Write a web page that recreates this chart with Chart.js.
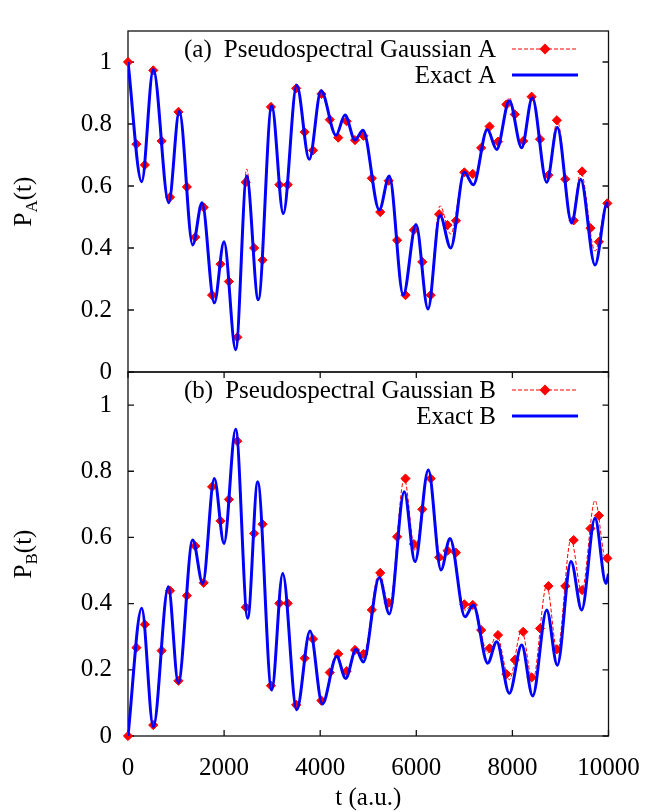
<!DOCTYPE html>
<html><head><meta charset="utf-8">
<script src="https://cdn.jsdelivr.net/npm/chart.js@4"></script>
<style>
html,body{margin:0;padding:0;background:#fff;}
#wrap{position:relative;width:659px;height:812px;overflow:hidden;}
canvas{position:absolute;left:0;top:0;}
</style>
</head><body>
<div id="wrap"><canvas id="ca" width="659" height="812"></canvas><canvas id="cb" width="659" height="812"></canvas></div>
<script>
// ---- data ----
const markerT = [0,175,350,525,700,875,1050,1225,1400,1575,1750,1925,2100,2275,2450,2625,2800,2975,3150,3325,3500,3675,3850,4025,4200,4375,4550,4725,4900,5075,5250,5425,5600,5775,5950,6125,6300,6475,6650,6825,7000,7175,7350,7525,7700,7875,8050,8225,8400,8575,8750,8925,9100,9275,9450,9625,9800,9975];
const gaussA = [1.0,0.735,0.668,0.973,0.745,0.564,0.839,0.597,0.435,0.531,0.248,0.348,0.292,0.112,0.612,0.40,0.361,0.855,0.604,0.604,0.915,0.774,0.715,0.897,0.814,0.756,0.809,0.748,0.762,0.625,0.516,0.617,0.425,0.248,0.458,0.355,0.248,0.509,0.474,0.488,0.644,0.639,0.723,0.792,0.743,0.863,0.831,0.745,0.888,0.751,0.635,0.812,0.622,0.489,0.647,0.464,0.42,0.544];
const gaussB = [0.0,0.267,0.337,0.033,0.258,0.439,0.167,0.424,0.574,0.463,0.753,0.65,0.715,0.891,0.389,0.612,0.64,0.152,0.401,0.401,0.094,0.235,0.293,0.107,0.192,0.248,0.196,0.26,0.248,0.381,0.493,0.403,0.602,0.778,0.58,0.685,0.778,0.54,0.56,0.554,0.398,0.396,0.32,0.265,0.305,0.187,0.23,0.315,0.177,0.325,0.453,0.262,0.453,0.592,0.441,0.627,0.666,0.537];

const curveTA = [0,285,527,847,1068,1347,1540,1796,1998,2241,2470,2712,2991,3232,3511,3773,4017,4329,4516,4724,4891,5230,5438,5729,5994,6243,6493,6716,6999,7186,7478,7673,7936,8193,8414,8714,8934,9234,9421,9719,9975,10000];
const exactA = [1.0,0.614,0.976,0.546,0.841,0.410,0.546,0.223,0.420,0.072,0.632,0.233,0.859,0.511,0.925,0.686,0.907,0.764,0.829,0.748,0.780,0.523,0.632,0.248,0.476,0.203,0.506,0.40,0.644,0.604,0.782,0.718,0.875,0.723,0.885,0.612,0.789,0.481,0.622,0.345,0.546,0.53];
const gaussLineA = [1.0,0.614,0.976,0.546,0.841,0.410,0.546,0.223,0.420,0.072,0.655,0.233,0.859,0.511,0.925,0.686,0.907,0.764,0.829,0.748,0.780,0.523,0.632,0.248,0.476,0.203,0.536,0.445,0.644,0.604,0.79,0.718,0.885,0.723,0.89,0.612,0.81,0.481,0.647,0.39,0.55,0.53];

const curveTB = [0,285,527,839,1047,1347,1555,1796,1998,2241,2491,2699,2991,3220,3511,3788,4044,4343,4531,4745,4897,5230,5438,5750,5973,6250,6514,6701,7013,7186,7486,7673,7936,8193,8422,8714,8934,9220,9442,9719,9948,10000];
const exactB = [0,0.386,0.028,0.451,0.161,0.592,0.461,0.778,0.582,0.927,0.356,0.768,0.139,0.491,0.079,0.317,0.097,0.24,0.174,0.262,0.224,0.479,0.369,0.738,0.527,0.804,0.502,0.597,0.36,0.396,0.22,0.285,0.129,0.275,0.121,0.381,0.214,0.527,0.381,0.658,0.461,0.49];
const gaussLineB = [0,0.386,0.028,0.451,0.161,0.592,0.461,0.778,0.582,0.927,0.356,0.768,0.139,0.491,0.079,0.317,0.097,0.25,0.18,0.265,0.245,0.495,0.39,0.778,0.56,0.804,0.53,0.59,0.38,0.40,0.25,0.305,0.17,0.32,0.165,0.455,0.255,0.595,0.435,0.712,0.53,0.54];

const yTicks = [0,0.2,0.4,0.6,0.8,1];
const xTicks = [0,2000,4000,6000,8000,10000];
const xTitle = 't (a.u.)';

const FONT = '"Liberation Serif", "Times New Roman", Times, serif';
const pts = (xs, ys) => xs.map((x, i) => ({x: x, y: ys[i]}));

function framePlugin(o) {
  return {
    id: 'frame' + o.sub,
    beforeDatasetsDraw(chart) {
      const {ctx, chartArea: a, scales} = chart;
      ctx.save();
      ctx.strokeStyle = '#111';
      ctx.lineWidth = 1.3;
      ctx.strokeRect(a.left, a.top, a.right - a.left, a.bottom - a.top);
      ctx.beginPath();
      for (const v of yTicks) {
        const y = scales.y.getPixelForValue(v);
        ctx.moveTo(a.left, y); ctx.lineTo(a.left + 6, y);
        ctx.moveTo(a.right, y); ctx.lineTo(a.right - 6, y);
      }
      if (o.xTicks) {
        for (const v of xTicks) {
          const x = scales.x.getPixelForValue(v);
          ctx.moveTo(x, a.bottom); ctx.lineTo(x, a.bottom - 6);
          ctx.moveTo(x, a.top); ctx.lineTo(x, a.top + 6);
        }
      }
      ctx.stroke();
      ctx.restore();
    },
    afterDraw(chart) {
      const {ctx, chartArea: a} = chart;
      ctx.save();
      ctx.fillStyle = '#000';
      ctx.textBaseline = 'alphabetic';
      ctx.font = '25px ' + FONT;
      // legend
      ctx.textAlign = 'left';
      ctx.fillText(o.tag, 184, a.top + 26);
      ctx.textAlign = 'right';
      ctx.fillText(o.label1, 496, a.top + 26);
      ctx.fillText(o.label2, 496, a.top + 52);
      // red dashed sample with diamond
      ctx.strokeStyle = '#ff0000';
      ctx.lineWidth = 1;
      ctx.setLineDash([4, 2]);
      ctx.beginPath();
      ctx.moveTo(512, a.top + 18); ctx.lineTo(578, a.top + 18);
      ctx.stroke();
      ctx.setLineDash([]);
      ctx.fillStyle = '#ff0000';
      ctx.beginPath();
      const cx = 545, cy = a.top + 18, r = 5.5;
      ctx.moveTo(cx, cy - r); ctx.lineTo(cx + r, cy); ctx.lineTo(cx, cy + r); ctx.lineTo(cx - r, cy); ctx.closePath();
      ctx.fill();
      // blue sample
      ctx.strokeStyle = '#0000ff';
      ctx.lineWidth = 3;
      ctx.beginPath();
      ctx.moveTo(512, a.top + 44); ctx.lineTo(578, a.top + 44);
      ctx.stroke();
      // y title with subscript
      ctx.fillStyle = '#000';
      ctx.translate(31, (a.top + a.bottom) / 2);
      ctx.rotate(-Math.PI / 2);
      ctx.textAlign = 'left';
      const big = '25px ' + FONT, small = '17px ' + FONT;
      ctx.font = big; const wP = ctx.measureText('P').width; const wT = ctx.measureText('(t)').width;
      ctx.font = small; const wS = ctx.measureText(o.sub).width;
      let x0 = -(wP + wS + wT) / 2;
      ctx.font = big; ctx.fillText('P', x0, 0);
      ctx.font = small; ctx.fillText(o.sub, x0 + wP, 6);
      ctx.font = big; ctx.fillText('(t)', x0 + wP + wS, 0);
      ctx.restore();
      if (o.xTicks) {
        ctx.save();
        ctx.fillStyle = '#000';
        ctx.font = '25px ' + FONT;
        ctx.textAlign = 'center';
        ctx.textBaseline = 'alphabetic';
        ctx.fillText(xTitle, (a.left + a.right) / 2, 805);
        ctx.restore();
      }
    }
  };
}

function buildChart(id, o) {
  return new Chart(document.getElementById(id), {
    type: 'line',
    data: {
      datasets: [
        {label: o.label2, data: pts(o.curveT, o.exact), borderColor: '#0000ff', borderWidth: 3,
         pointRadius: 0, cubicInterpolationMode: 'monotone', fill: false, order: 0},
        {label: o.label1 + ' line', data: pts(o.curveT, o.gaussLine), borderColor: '#ff0000', borderWidth: 1,
         borderDash: [4, 2], pointRadius: 0, cubicInterpolationMode: 'monotone', fill: false, order: 1},
        {label: o.label1, data: pts(markerT, o.gauss), showLine: false, pointStyle: 'rectRot',
         pointRadius: 4.6, pointBackgroundColor: '#ff0000', pointBorderColor: '#ff0000', pointBorderWidth: 1,
         clip: false, order: 2}
      ]
    },
    options: {
      responsive: false, animation: false, devicePixelRatio: 1, events: [],
      layout: {padding: o.padding},
      plugins: {legend: {display: false}, tooltip: {enabled: false}, title: {display: false}},
      scales: {
        x: {
          type: 'linear', min: 0, max: 10000, bounds: 'data', display: o.xTicks,
          afterBuildTicks: s => { s.ticks = xTicks.map(v => ({value: v})); },
          afterFit: s => { s.height = o.xTicks ? 76 : 0; },
          grid: {display: false, drawTicks: false}, border: {display: false},
          ticks: {display: o.xTicks, autoSkip: false, maxRotation: 0, padding: 17, color: '#000',
                  font: {family: FONT, size: 25}, callback: v => String(v)}
        },
        y: {
          type: 'linear', min: 0, max: 1.1, bounds: 'data',
          afterBuildTicks: s => { s.ticks = yTicks.map(v => ({value: v})); },
          afterFit: s => { s.width = 128; },
          grid: {display: false, drawTicks: false}, border: {display: false},
          ticks: {padding: 16, color: '#000', font: {family: FONT, size: 25}, callback: v => String(v)}
        }
      }
    },
    plugins: [framePlugin(o)]
  });
}

buildChart('ca', {
  tag: '(a)', label1: 'Pseudospectral Gaussian A', label2: 'Exact A', sub: 'A', xTicks: false,
  curveT: curveTA, exact: exactA, gaussLine: gaussLineA, gauss: gaussA,
  padding: {top: 8, right: 50.5, bottom: 440, left: 0}
});
buildChart('cb', {
  tag: '(b)', label1: 'Pseudospectral Gaussian B', label2: 'Exact B', sub: 'B', xTicks: true,
  curveT: curveTB, exact: exactB, gaussLine: gaussLineB, gauss: gaussB,
  padding: {top: 372, right: 50.5, bottom: 0, left: 0}
});
</script>
</body></html>
